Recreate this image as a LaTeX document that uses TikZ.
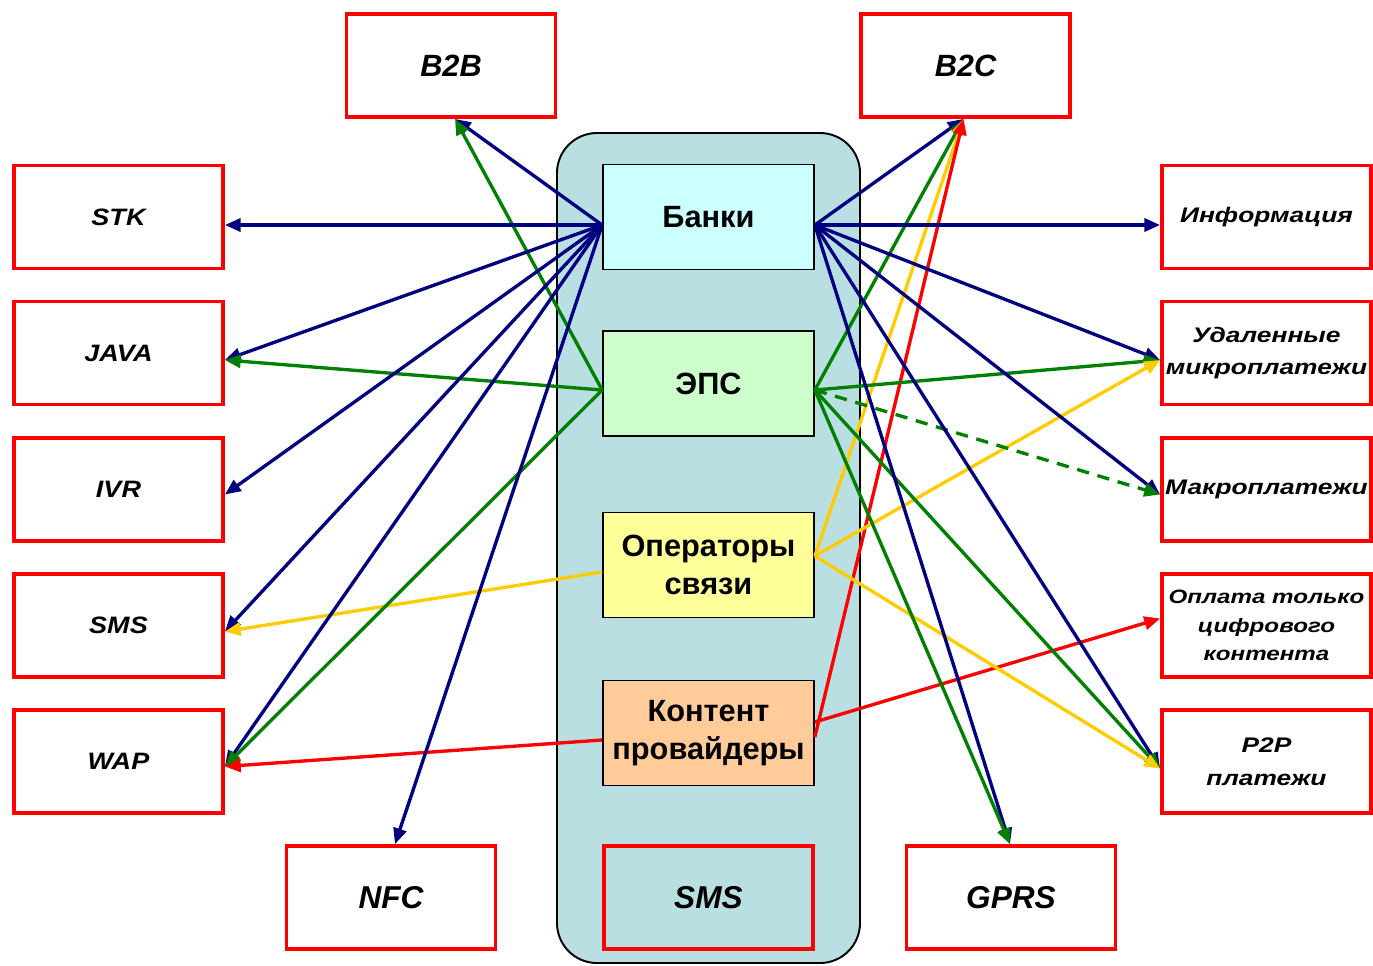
\documentclass[tikz,border=0pt]{standalone}
\usepackage{fontspec}
\setmainfont{Liberation Sans}
\newfontfamily\widefont[FakeStretch=1.25]{Liberation Sans}
\newfontfamily\midfont[FakeStretch=1.14]{Liberation Sans}
\usetikzlibrary{arrows.meta,calc}
\definecolor{navy}{HTML}{000080}
\definecolor{dgreen}{HTML}{008000}
\definecolor{gold}{HTML}{FFCC00}
\definecolor{tealbg}{HTML}{BADFE2}
\definecolor{bankfill}{HTML}{CCFFFF}
\definecolor{epsfill}{HTML}{CCFFCC}
\definecolor{opfill}{HTML}{FFFF99}
\definecolor{contfill}{HTML}{FFCC99}
\begin{document}
\begin{tikzpicture}[x=0.02cm,y=-0.02cm,
  redbox/.style={draw=red,line width=2.2pt,fill=white,minimum width=4.18cm,minimum height=2.06cm,inner sep=0pt,align=center},
  leftlbl/.style={font=\midfont\bfseries\itshape\fontsize{13.5}{16}\selectfont},
  rightlbl/.style={font=\widefont\bfseries\itshape\fontsize{12}{18}\selectfont},
  biglbl/.style={font=\bfseries\itshape\fontsize{17.5}{21}\selectfont},
  hubbox/.style={draw=black,line width=1pt,minimum width=4.22cm,minimum height=2.1cm,inner sep=0pt,align=center,font=\bfseries\fontsize{17.5}{21.5}\selectfont},
  conn/.style={line width=1.9pt,-{Triangle[length=9pt,width=7.5pt]}}
]
\useasboundingbox (0,0) rectangle (1373,965);
% central column
\draw[fill=tealbg,line width=1.1pt,rounded corners=0.8cm] (557,133) rectangle (860,963);
\node[hubbox,fill=bankfill] (bank) at (708.5,217) {Банки};
\node[hubbox,fill=epsfill] (eps) at (708.5,383.5) {ЭПС};
\node[hubbox,fill=opfill] (oper) at (708.5,565) {Операторы\\связи};
\node[hubbox,fill=contfill] (cont) at (708.5,733) {Контент\\провайдеры};
\node[redbox,fill=none,font=\bfseries\itshape\fontsize{18}{21}\selectfont] (smsc) at (708.5,897.5) {SMS};
% top
\node[redbox,biglbl] (b2b) at (451,65.5) {B2B};
\node[redbox,biglbl] (b2c) at (965.5,65.5) {B2C};
% left
\node[redbox,leftlbl] (stk) at (118.5,217) {STK};
\node[redbox,leftlbl] (java) at (118.5,353) {JAVA};
\node[redbox,leftlbl] (ivr) at (118.5,489.5) {IVR};
\node[redbox,leftlbl] (smsl) at (118.5,625.5) {SMS};
\node[redbox,leftlbl] (wap) at (118.5,761.5) {WAP};
% right
\node[redbox,rightlbl] (info) at (1266.5,217) {Информация};
\node[redbox,rightlbl] (remote) at (1266.5,353) {Удаленные\\микроплатежи};
\node[redbox,rightlbl] (macro) at (1266.5,489.5) {Макроплатежи};
\node[redbox,font=\widefont\bfseries\itshape\fontsize{11}{16.4}\selectfont] (digital) at (1266.5,625.5) {Оплата только\\цифрового\\контента};
\node[redbox,font=\widefont\bfseries\itshape\fontsize{12}{19}\selectfont] (p2p) at (1266.5,761.5) {P2P\\платежи};
% bottom
\node[redbox,font=\bfseries\itshape\fontsize{18}{21}\selectfont] (nfc) at (391,897.5) {NFC};
\node[redbox,font=\bfseries\itshape\fontsize{18}{21}\selectfont] (gprs) at (1011,897.5) {GPRS};
% hub points
\coordinate (bw) at ($(bank.west)+(0,8)$);
\coordinate (be) at ($(bank.east)+(0,8)$);
\coordinate (ew) at ($(eps.west)+(0,6.5)$);
\coordinate (ee) at ($(eps.east)+(0,6.5)$);
\coordinate (ow) at ($(oper.west)+(0,7)$);
\coordinate (oe) at ($(oper.east)+(0,-9)$);
\coordinate (kw) at ($(cont.west)+(0,7)$);
\coordinate (ke1) at ($(cont.east)+(0,-11)$);
\coordinate (ke2) at ($(cont.east)+(0,4)$);
% targets
\coordinate (tb2b) at ($(b2b.south)+(4,0)$);
\coordinate (tb2c) at ($(b2c.south)+(-2,0)$);
\coordinate (tstk) at (stk.east |- bw);
\coordinate (tjava) at ($(java.east)+(0,7)$);
\coordinate (tivr) at ($(ivr.east)+(0,5)$);
\coordinate (tsms) at ($(smsl.east)+(0,6)$);
\coordinate (twap) at ($(wap.east)+(0,5)$);
\coordinate (tnfc) at ($(nfc.north)+(4,0)$);
\coordinate (tinfo) at (info.west |- be);
\coordinate (trem) at ($(remote.west)+(0,7)$);
\coordinate (tmac) at ($(macro.west)+(0,5)$);
\coordinate (tdig) at ($(digital.west)+(0,-7)$);
\coordinate (tp2p) at ($(p2p.west)+(0,7)$);
\coordinate (tgprs) at ($(gprs.north)+(-1,0)$);
% left side connectors
\draw[conn,navy] (bw) -- (tb2b);
\draw[conn,dgreen] (ew) -- (tb2b);
\draw[conn,navy] (bw) -- (tstk);
\draw[conn,navy] (bw) -- (tjava);
\draw[conn,dgreen] (ew) -- (tjava);
\draw[conn,navy] (bw) -- (tivr);
\draw[conn,navy] (bw) -- (tsms);
\draw[conn,gold] (ow) -- (tsms);
\draw[conn,navy] (bw) -- (twap);
\draw[conn,dgreen] (ew) -- (twap);
\draw[conn,red] (kw) -- (twap);
\draw[conn,navy] (bw) -- (tnfc);
% right side connectors
\draw[conn,navy] (be) -- (tb2c);
\draw[conn,dgreen] (ee) -- (tb2c);
\draw[conn,gold] (oe) -- (tb2c);
\draw[conn,red] (ke2) -- (tb2c);
\draw[conn,navy] (be) -- (tinfo);
\draw[conn,navy] (be) -- (trem);
\draw[conn,dgreen] (ee) -- (trem);
\draw[conn,gold] (oe) -- (trem);
\draw[conn,navy] (be) -- (tmac);
\draw[conn,dgreen,dash pattern=on 7pt off 5pt] (ee) -- (tmac);
\draw[conn,red] (ke1) -- (tdig);
\draw[conn,navy] (be) -- (tp2p);
\draw[conn,dgreen] (ee) -- (tp2p);
\draw[conn,gold] (oe) -- (tp2p);
\draw[conn,navy] (be) -- (tgprs);
\draw[conn,dgreen] (ee) -- (tgprs);
\end{tikzpicture}
\end{document}
